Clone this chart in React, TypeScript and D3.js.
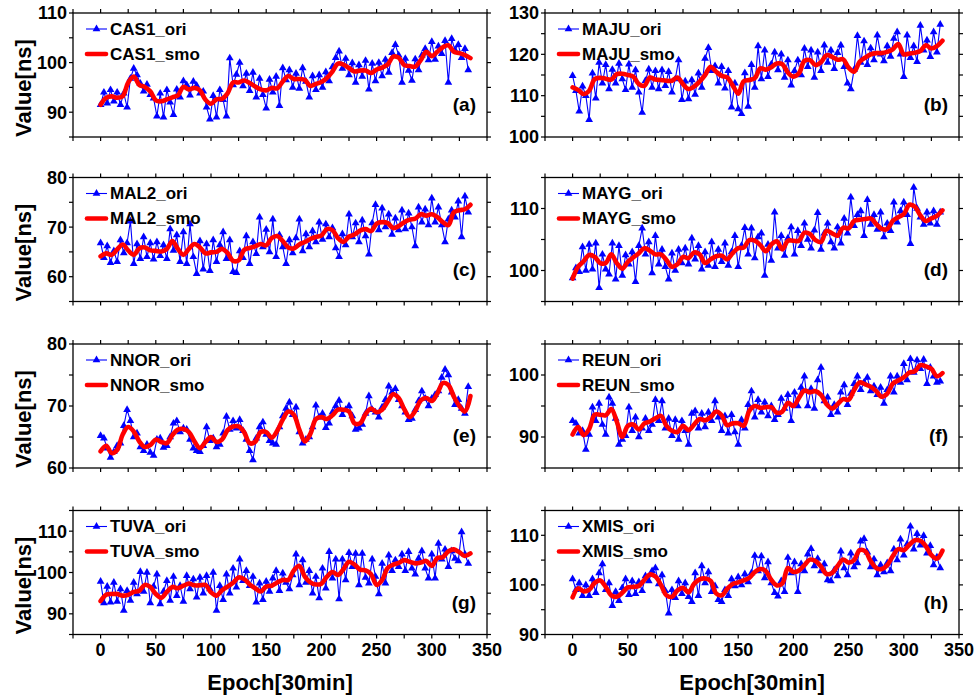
import React from "react";
import * as d3 from "d3";

// eight stations, original clock offsets (every 3rd epoch) vs the smoothed curve (every 5th)

const ORI_EPOCHS = d3.range(0, 336, 3);
const SMO_EPOCHS = d3.range(0, 340, 5);
const X_TICKS = d3.range(-25, 351, 25);
const X_LABELS = [0, 50, 100, 150, 200, 250, 300, 350];

const casOri = [
  91.5, 94.0, 91.8, 94.5, 92.2, 94.0, 91.5, 93.8, 91.0, 96.8,
  98.8, 97.5, 95.8, 94.2, 95.6, 93.5, 92.8, 89.2, 93.8, 89.0,
  94.5, 92.0, 89.5, 94.6, 93.0, 96.3, 95.5, 93.4, 96.2, 95.4,
  93.8, 94.2, 91.0, 88.6, 93.3, 89.0, 94.5, 92.5, 89.2, 100.9,
  95.5, 97.6, 100.0, 95.3, 97.8, 94.3, 98.0, 93.0, 96.8, 93.5,
  90.8, 96.6, 94.0, 97.2, 91.3, 98.9, 96.5, 98.5, 95.0, 97.8,
  94.8, 98.9, 96.2, 93.0, 97.3, 94.5, 97.5, 95.0, 98.1, 96.3,
  99.1, 101.0, 102.3, 98.8, 100.8, 97.5, 99.9, 96.0, 99.5, 97.2,
  100.4, 94.6, 99.8, 96.3, 100.0, 97.3, 100.6, 98.0, 102.0, 103.6,
  101.5, 96.0, 100.8, 98.4, 96.4, 100.7, 98.5, 101.5, 102.8, 100.5,
  104.2, 100.6, 103.3, 101.8, 104.4, 96.0, 104.8, 102.5, 103.6, 101.0,
  102.8, 98.5,
];
const casSmo = [
  91.5, 92.9, 93.2, 92.9, 93.2, 96.0, 97.2, 95.5, 95.1, 94.2,
  92.4, 92.2, 92.6, 93.0, 93.4, 95.1, 94.6, 94.9, 94.4, 92.5,
  91.7, 92.6, 92.7, 93.8, 96.0, 96.0, 96.4, 95.9, 95.2, 94.6,
  94.4, 94.9, 94.8, 96.2, 97.3, 96.7, 96.7, 96.5, 95.3, 95.7,
  96.1, 96.9, 98.2, 99.8, 99.6, 98.9, 98.2, 98.4, 98.4, 97.9,
  98.6, 99.0, 99.6, 101.2, 101.0, 99.5, 99.3, 99.2, 100.5, 102.2,
  101.3, 102.2, 103.1, 103.5, 102.2, 101.9, 101.5, 100.9,
];

const majuOri = [
  114.8, 111.2, 106.2, 112.3, 110.0, 104.2, 115.4, 109.4, 118.0, 113.0,
  117.5, 111.6, 116.3, 113.0, 117.8, 114.0, 111.4, 117.6, 112.0, 116.2,
  110.8, 105.9, 113.6, 116.4, 112.0, 116.0, 111.6, 116.2, 112.4, 115.8,
  110.8, 114.0, 118.6, 109.0, 113.5, 109.2, 113.8, 110.3, 115.4, 112.0,
  119.0, 121.6, 116.0, 117.2, 113.0, 117.0, 111.8, 116.0, 107.2, 113.0,
  106.8, 105.6, 115.5, 107.4, 117.5, 112.0, 122.0, 114.0, 121.0, 114.6,
  117.6, 120.5, 116.2, 120.0, 114.4, 118.6, 112.5, 116.0, 118.6, 115.0,
  121.4, 117.0, 121.0, 114.4, 120.5, 116.0, 122.2, 118.0, 121.0, 116.5,
  120.4, 122.2, 117.0, 113.0, 111.6, 116.3, 124.5, 118.0, 123.2, 117.5,
  121.5, 118.6, 124.6, 120.0, 118.4, 122.0, 119.5, 123.8, 125.4, 120.0,
  114.6, 124.6, 119.2, 122.0, 118.2, 127.0, 121.0, 123.4, 119.4, 125.4,
  120.5, 127.2,
];
const majuSmo = [
  112.0, 111.4, 110.4, 111.2, 114.0, 114.3, 114.1, 113.9, 115.2, 115.3,
  115.0, 114.6, 112.8, 112.4, 114.4, 113.9, 113.8, 113.6, 113.6, 114.4,
  112.8, 111.6, 112.2, 113.4, 115.0, 117.0, 115.8, 114.8, 114.4, 112.5,
  110.5, 113.5, 113.8, 114.2, 116.6, 116.3, 116.9, 117.8, 117.6, 115.6,
  114.6, 115.4, 118.4, 118.6, 117.4, 118.1, 119.8, 119.4, 118.7, 118.8,
  116.8, 115.8, 118.2, 119.2, 120.0, 120.3, 120.3, 120.6, 121.2, 122.5,
  120.0, 120.2, 120.4, 120.8, 122.2, 121.4, 122.0, 123.3,
];

const mal2Ori = [
  66.8, 63.8, 66.2, 62.8, 65.2, 63.0, 67.4, 64.8, 66.8, 71.2,
  62.6, 66.6, 63.6, 68.0, 64.0, 66.8, 63.5, 67.0, 64.2, 66.4,
  63.6, 69.6, 65.3, 68.4, 63.0, 69.0, 62.6, 70.6, 64.0, 60.6,
  67.2, 61.5, 66.6, 61.2, 67.4, 63.0, 66.4, 69.0, 63.6, 67.4,
  61.0, 60.8, 65.2, 63.8, 68.2, 62.6, 67.0, 64.6, 72.0, 66.0,
  69.5, 65.0, 71.6, 64.0, 68.4, 66.0, 62.6, 67.4, 64.8, 67.8,
  71.6, 65.2, 68.6, 66.0, 69.2, 67.0, 71.0, 67.5, 70.6, 68.0,
  69.8, 65.8, 64.0, 68.6, 66.4, 72.6, 68.0, 70.8, 67.0, 71.4,
  68.2, 64.5, 70.8, 74.5, 69.4, 73.8, 70.0, 72.6, 68.5, 71.8,
  69.4, 73.4, 69.6, 72.8, 70.0, 66.2, 74.0, 71.0, 73.6, 70.4,
  75.8, 71.0, 74.0, 70.4, 67.0, 71.6, 73.4, 72.0, 75.2, 68.0,
  76.2, 73.0,
];
const mal2Smo = [
  64.1, 64.7, 64.4, 65.5, 66.5, 65.3, 64.4, 65.7, 65.9, 65.3,
  65.2, 65.1, 65.6, 67.2, 65.6, 64.4, 65.6, 66.6, 65.9, 64.7,
  64.9, 65.0, 65.6, 64.8, 63.2, 63.3, 65.4, 65.8, 66.1, 66.6,
  66.3, 67.8, 68.2, 67.2, 65.9, 65.7, 66.5, 67.0, 67.6, 68.0,
  68.3, 69.6, 69.4, 67.8, 67.0, 68.1, 68.5, 69.3, 69.6, 69.2,
  70.7, 71.0, 70.8, 69.8, 70.2, 71.0, 71.5, 71.7, 72.6, 72.3,
  72.6, 72.0, 71.0, 70.4, 73.0, 73.4, 73.6, 74.5,
];

const maygOri = [
  98.8, 100.4, 99.8, 103.8, 100.0, 104.2, 100.2, 104.4, 97.2, 102.6,
  100.2, 99.4, 104.4, 98.6, 104.0, 99.2, 102.5, 101.0, 103.0, 98.2,
  104.0, 106.8, 102.6, 104.6, 99.6, 105.6, 101.0, 103.4, 100.6, 98.6,
  102.8, 100.0, 103.4, 101.2, 103.6, 101.0, 105.2, 101.8, 104.0, 100.2,
  103.0, 100.8, 104.6, 100.6, 103.4, 101.4, 104.4, 100.8, 103.0, 105.6,
  100.6, 104.0, 106.9, 102.6, 106.8, 102.0, 105.4, 106.0, 99.2, 104.2,
  101.6, 109.4, 103.6, 105.6, 102.4, 105.2, 107.0, 102.6, 106.4, 104.0,
  107.6, 105.0, 103.6, 106.5, 109.3, 103.4, 106.0, 107.6, 104.6, 103.6,
  107.0, 104.4, 108.4, 106.0, 111.8, 107.2, 109.0, 109.6, 105.6, 111.4,
  107.4, 109.0, 106.6, 109.4, 105.4, 107.6, 106.4, 111.0, 107.8, 109.6,
  111.0, 109.0, 104.3, 113.4, 110.0, 108.6, 107.4, 109.4, 107.6, 109.6,
  107.4, 109.4,
];
const maygSmo = [
  98.7, 100.6, 101.5, 102.5, 102.2, 101.2, 101.2, 102.6, 101.2, 100.3,
  101.4, 102.1, 102.8, 103.6, 103.2, 102.6, 102.6, 101.7, 100.6, 101.0,
  102.2, 102.0, 102.9, 102.6, 101.2, 101.8, 102.3, 102.4, 101.8, 102.8,
  103.6, 103.7, 104.9, 104.8, 104.1, 103.1, 104.2, 104.7, 103.4, 104.8,
  104.8, 104.8, 106.1, 105.9, 104.9, 104.6, 106.4, 106.0, 105.6, 106.9,
  106.8, 108.0, 108.2, 108.3, 108.4, 107.5, 106.7, 106.7, 108.0, 108.6,
  109.1, 110.6, 110.3, 108.9, 108.0, 108.4, 108.8, 109.7,
];

const nnorOri = [
  65.2, 64.8, 63.2, 61.7, 62.6, 63.6, 64.0, 66.8, 69.4, 67.6,
  65.0, 65.6, 63.4, 62.8, 63.8, 62.5, 62.0, 64.6, 64.8, 63.3,
  63.6, 65.0, 67.2, 67.6, 65.8, 66.4, 66.2, 64.6, 63.2, 62.8,
  62.6, 63.6, 66.6, 64.4, 64.8, 63.4, 63.8, 65.6, 68.3, 66.2,
  67.6, 66.4, 67.8, 66.0, 64.6, 62.8, 61.3, 64.8, 66.6, 67.4,
  65.4, 64.4, 64.0, 63.8, 66.6, 68.4, 69.6, 70.6, 68.6, 69.8,
  65.8, 64.0, 64.6, 65.0, 66.6, 70.1, 68.2, 68.8, 66.5, 67.2,
  69.0, 70.0, 70.9, 68.6, 69.4, 70.0, 68.4, 66.2, 66.4, 67.0,
  68.8, 71.6, 69.4, 69.0, 68.2, 69.8, 71.0, 73.2, 72.2, 72.8,
  71.0, 70.0, 69.0, 67.8, 68.0, 69.4, 70.8, 72.4, 71.2, 70.0,
  71.2, 71.8, 72.4, 74.6, 75.9, 75.0, 72.2, 70.2, 71.0, 69.6,
  68.8, 73.1,
];
const nnorSmo = [
  62.7, 63.6, 62.4, 62.9, 65.4, 66.6, 65.9, 64.3, 63.4, 63.7,
  64.6, 64.2, 64.0, 65.3, 66.2, 66.3, 65.8, 64.3, 63.2, 64.2,
  65.0, 64.2, 64.6, 66.1, 66.7, 66.7, 65.8, 64.0, 64.2, 65.8,
  65.8, 64.9, 66.0, 67.8, 69.1, 68.6, 66.2, 64.3, 65.5, 67.9,
  68.2, 67.9, 68.5, 69.4, 69.4, 69.1, 67.2, 67.2, 68.7, 69.6,
  69.0, 69.4, 70.7, 71.9, 71.3, 69.5, 68.2, 69.2, 70.9, 71.3,
  70.8, 72.0, 73.7, 73.4, 71.5, 70.0, 69.1, 71.6,
];

const reunOri = [
  92.6, 92.2, 90.6, 91.0, 88.0, 90.4, 94.8, 92.6, 95.4, 92.0,
  90.4, 96.4, 95.4, 93.0, 88.8, 89.6, 90.2, 94.8, 91.0, 93.2,
  90.0, 91.4, 93.0, 91.0, 92.0, 96.0, 92.6, 95.8, 91.4, 93.0,
  90.2, 92.8, 89.6, 92.6, 91.0, 88.8, 93.8, 94.2, 91.4, 93.8,
  91.6, 94.0, 92.6, 95.8, 93.2, 91.0, 93.4, 90.6, 93.6, 90.8,
  88.8, 92.8, 91.4, 95.2, 97.4, 93.2, 96.0, 94.0, 95.6, 93.4,
  95.0, 92.8, 93.6, 96.2, 94.6, 96.8, 92.6, 97.2, 95.0, 98.0,
  99.8, 95.0, 97.8, 94.6, 99.2, 101.2, 95.8, 96.4, 93.6, 95.2,
  94.0, 97.2, 98.4, 95.2, 97.0, 98.6, 99.8, 97.6, 98.8, 99.6,
  97.4, 98.2, 96.8, 98.0, 95.4, 97.6, 99.8, 97.2, 99.8, 98.8,
  101.8, 99.2, 102.6, 100.4, 102.4, 101.0, 102.5, 98.6, 101.2, 99.8,
  98.8, 99.0,
];
const reunSmo = [
  90.4, 91.6, 90.3, 91.3, 93.6, 93.6, 93.5, 94.5, 92.5, 90.0,
  91.8, 92.0, 91.2, 92.2, 92.5, 93.0, 93.4, 91.8, 91.0, 90.8,
  91.8, 91.1, 92.0, 92.9, 92.7, 93.2, 94.1, 93.5, 91.9, 92.2,
  92.2, 91.8, 94.2, 95.0, 94.7, 94.8, 94.8, 93.9, 94.1, 95.5,
  95.0, 96.3, 97.5, 97.2, 97.4, 96.8, 95.3, 94.6, 95.3, 96.1,
  96.0, 97.6, 98.8, 98.5, 98.1, 97.4, 96.5, 97.0, 98.6, 99.1,
  99.6, 100.4, 100.6, 101.6, 101.4, 101.0, 99.8, 100.3,
];

const tuvaOri = [
  97.8, 92.6, 96.6, 92.8, 97.6, 93.0, 96.0, 90.8, 95.6, 93.2,
  97.6, 94.8, 100.2, 95.4, 100.0, 92.6, 96.6, 99.6, 92.4, 95.4,
  98.0, 93.2, 99.0, 94.4, 96.8, 93.0, 99.2, 96.0, 98.4, 94.0,
  98.8, 95.0, 99.2, 96.0, 100.0, 90.8, 96.8, 93.4, 99.6, 95.0,
  101.0, 96.4, 103.2, 98.0, 100.4, 96.8, 99.0, 92.8, 97.4, 93.4,
  97.8, 95.4, 98.6, 100.4, 95.6, 99.8, 97.6, 96.0, 99.4, 104.4,
  97.0, 103.0, 97.6, 100.4, 95.0, 99.0, 93.8, 101.0, 96.2, 105.0,
  98.6, 103.2, 93.6, 103.2, 98.2, 104.8, 101.4, 104.6, 97.0, 104.6,
  98.8, 97.4, 103.2, 99.0, 94.8, 102.2, 97.4, 104.2, 100.4, 103.0,
  101.4, 104.4, 100.4, 105.0, 101.0, 99.6, 103.4, 105.2, 101.0, 98.6,
  104.4, 98.6, 107.0, 103.2, 105.6, 101.4, 105.2, 103.4, 102.8, 109.8,
  104.4, 102.2,
];
const tuvaSmo = [
  93.1, 94.6, 94.8, 94.8, 94.4, 94.6, 95.3, 95.6, 97.0, 96.5,
  94.8, 93.9, 95.3, 96.5, 96.2, 96.8, 97.3, 96.9, 96.9, 97.0,
  95.2, 94.4, 95.7, 96.6, 97.5, 98.8, 98.4, 97.1, 96.2, 95.4,
  96.6, 96.8, 97.6, 98.2, 98.2, 100.5, 101.6, 99.0, 97.6, 97.1,
  97.3, 99.0, 100.1, 99.4, 100.8, 102.6, 101.9, 100.7, 100.5, 99.6,
  97.0, 98.2, 101.1, 101.9, 102.3, 103.0, 102.6, 102.2, 102.4, 102.8,
  101.6, 103.5, 103.7, 105.1, 105.6, 104.9, 104.0, 104.6,
];

const xmisOri = [
  101.2, 99.0, 100.4, 97.8, 100.0, 97.8, 101.2, 98.4, 102.4, 104.2,
  99.0, 100.4, 95.8, 98.6, 96.8, 99.4, 101.2, 98.0, 100.8, 98.2,
  100.6, 98.8, 101.8, 100.8, 102.8, 103.4, 100.2, 102.0, 98.8, 94.3,
  99.0, 97.4, 100.8, 98.2, 100.4, 97.6, 96.6, 102.4, 97.8, 103.8,
  100.4, 102.6, 98.6, 99.8, 97.0, 96.6, 99.0, 97.8, 101.2, 99.8,
  101.6, 100.0, 102.2, 100.6, 102.4, 105.9, 102.8, 105.8, 101.4, 104.6,
  100.4, 98.4, 97.7, 100.8, 98.6, 105.5, 102.4, 104.6, 98.6, 104.2,
  102.8, 106.2, 107.3, 103.8, 105.3, 102.8, 104.2, 101.0, 100.8, 103.0,
  101.8, 106.8, 103.4, 102.0, 106.4, 103.6, 104.4, 108.8, 109.3, 106.6,
  103.6, 105.2, 102.0, 104.0, 102.6, 104.4, 102.8, 107.2, 105.0, 109.2,
  106.0, 108.2, 111.8, 107.2, 110.3, 108.0, 109.9, 106.4, 107.9, 104.0,
  105.6, 103.4,
];
const xmisSmo = [
  97.5, 99.3, 98.7, 99.0, 100.4, 100.9, 99.6, 97.9, 97.6, 98.4,
  99.5, 99.6, 99.8, 101.0, 102.1, 101.7, 100.0, 97.9, 97.6, 98.9,
  99.4, 98.5, 100.2, 101.1, 101.3, 100.8, 98.3, 97.9, 99.2, 100.2,
  100.5, 100.9, 101.4, 102.6, 103.2, 102.8, 101.0, 99.9, 100.3, 103.4,
  102.6, 102.9, 104.0, 105.1, 104.8, 103.7, 102.2, 102.4, 103.8, 105.1,
  104.5, 105.0, 107.0, 106.8, 104.8, 103.4, 103.2, 104.0, 105.8, 107.2,
  107.0, 108.1, 109.0, 108.9, 107.8, 106.0, 105.3, 106.9,
];

const panels = [
  { name: "CAS1", tag: "(a)", ori: casOri, smo: casSmo, yDomain: [85, 110] },
  { name: "MAJU", tag: "(b)", ori: majuOri, smo: majuSmo, yDomain: [100, 130] },
  { name: "MAL2", tag: "(c)", ori: mal2Ori, smo: mal2Smo, yDomain: [55, 80] },
  { name: "MAYG", tag: "(d)", ori: maygOri, smo: maygSmo, yDomain: [95, 115] },
  { name: "NNOR", tag: "(e)", ori: nnorOri, smo: nnorSmo, yDomain: [60, 80] },
  { name: "REUN", tag: "(f)", ori: reunOri, smo: reunSmo, yDomain: [85, 105] },
  { name: "TUVA", tag: "(g)", ori: tuvaOri, smo: tuvaSmo, yDomain: [85, 115] },
  { name: "XMIS", tag: "(h)", ori: xmisOri, smo: xmisSmo, yDomain: [90, 115] },
];

const FONT = "'Liberation Sans', Arial, Helvetica, sans-serif";
const BLUE = "#0000ff";
const RED = "#ff0000";
const COL_LEFT = [73, 545];
const ROW_TOP = [13, 177.5, 344, 510.5];
const PLOT_W = 414;
const PLOT_H = 124;
const TICK = 4;

const triangle = d3.symbol(d3.symbolTriangle, 26)() as string;

function Panel({ p, left, top, bottomRow, leftCol }: any) {
  const x = d3.scaleLinear().domain([-25, 350]).range([left, left + PLOT_W]);
  const y = d3.scaleLinear().domain(p.yDomain).range([top + PLOT_H, top]);
  const bottom = top + PLOT_H;
  const right = left + PLOT_W;

  const oriPts: [number, number][] = p.ori.map((v: number, i: number) => [ORI_EPOCHS[i], v]);
  const smoPts: [number, number][] = p.smo.map((v: number, i: number) => [SMO_EPOCHS[i], v]);

  const oriLine = d3.line<[number, number]>().x((d) => x(d[0])).y((d) => y(d[1]));
  const smoLine = d3
    .line<[number, number]>()
    .x((d) => x(d[0]))
    .y((d) => y(d[1]))
    .curve(d3.curveCatmullRom.alpha(0.5));

  const yTicks = d3.range(p.yDomain[0], p.yDomain[1] + 0.01, 5);

  return (
    <g>
      <path d={oriLine(oriPts) ?? ""} fill="none" stroke={BLUE} strokeWidth={1.1} />
      {oriPts.map((d, i) => (
        <path key={i} d={triangle} transform={`translate(${x(d[0])},${y(d[1])})`} fill={BLUE} />
      ))}
      <path
        d={smoLine(smoPts) ?? ""}
        fill="none"
        stroke={RED}
        strokeWidth={4.6}
        strokeLinejoin="round"
        strokeLinecap="round"
      />

      {/* frame with outward ticks on all four sides */}
      <rect x={left} y={top} width={PLOT_W} height={PLOT_H} fill="none" stroke="#000" strokeWidth={1.3} />
      {X_TICKS.map((t) => (
        <g key={"x" + t} stroke="#000" strokeWidth={1.2}>
          <line x1={x(t)} x2={x(t)} y1={bottom} y2={bottom + TICK} />
          <line x1={x(t)} x2={x(t)} y1={top} y2={top - TICK} />
        </g>
      ))}
      {yTicks.map((t) => (
        <g key={"y" + t} stroke="#000" strokeWidth={1.2}>
          <line x1={left} x2={left - TICK} y1={y(t)} y2={y(t)} />
          <line x1={right} x2={right + TICK} y1={y(t)} y2={y(t)} />
        </g>
      ))}
      {yTicks
        .filter((t) => t % 10 === 0)
        .map((t) => (
          <text
            key={"yl" + t}
            x={left - 6}
            y={y(t)}
            dy="0.36em"
            textAnchor="end"
            fontSize={18}
            fontWeight="bold"
          >
            {t}
          </text>
        ))}
      {bottomRow &&
        X_LABELS.map((t) => (
          <text key={"xl" + t} x={x(t)} y={bottom + 21} textAnchor="middle" fontSize={18} fontWeight="bold">
            {t}
          </text>
        ))}

      {/* legend */}
      <line x1={left + 13} x2={left + 34} y1={top + 16} y2={top + 16} stroke={BLUE} strokeWidth={1.1} />
      <path d={triangle} transform={`translate(${left + 23.5},${top + 16})`} fill={BLUE} />
      <text x={left + 37} y={top + 21.5} fontSize={17} fontWeight="bold">
        {p.name}_ori
      </text>
      <line
        x1={left + 14}
        x2={left + 33}
        y1={top + 41}
        y2={top + 41}
        stroke={RED}
        strokeWidth={4.6}
        strokeLinecap="round"
      />
      <text x={left + 37} y={top + 46.5} fontSize={17} fontWeight="bold">
        {p.name}_smo
      </text>

      <text x={right - 11} y={top + 98} textAnchor="end" fontSize={19} fontWeight="bold">
        {p.tag}
      </text>

      {leftCol && (
        <text
          transform={`translate(31,${top + PLOT_H / 2 + 13}) rotate(-90)`}
          textAnchor="middle"
          fontSize={22}
          fontWeight="bold"
        >
          Value[ns]
        </text>
      )}
    </g>
  );
}

export default function App() {
  return (
    <svg
      width={976}
      height={700}
      style={{ position: "absolute", left: 0, top: 0, background: "#fff" }}
      fontFamily={FONT}
    >
      <rect width={976} height={700} fill="#fff" />
      {panels.map((p, i) => (
        <Panel
          key={p.name}
          p={p}
          left={COL_LEFT[i % 2]}
          top={ROW_TOP[Math.floor(i / 2)]}
          bottomRow={i >= 6}
          leftCol={i % 2 === 0}
        />
      ))}
      {COL_LEFT.map((l) => (
        <text key={l} x={l + PLOT_W / 2} y={690} textAnchor="middle" fontSize={22} fontWeight="bold">
          Epoch[30min]
        </text>
      ))}
    </svg>
  );
}
